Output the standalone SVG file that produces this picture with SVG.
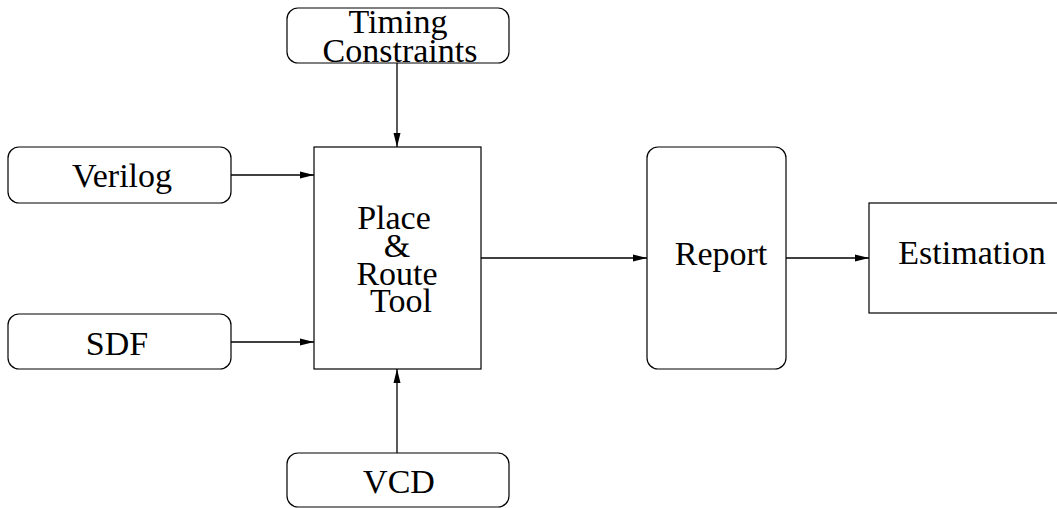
<svg xmlns="http://www.w3.org/2000/svg" width="1057" height="508" viewBox="0 0 1057 508">
<style>
.box{fill:#fff;stroke:#000;stroke-width:1.2}
.t{font-family:"Liberation Serif","Times New Roman",serif;font-size:34px;fill:#000;text-anchor:middle}
.c{stroke:#000;stroke-width:1.3;fill:none;marker-end:url(#ah)}
</style>
<defs>
<marker id="ah" viewBox="0 0 14 8" refX="14" refY="4" markerWidth="14" markerHeight="8" markerUnits="userSpaceOnUse" orient="auto">
<path d="M0,0.5 L14,4 L0,7.5 Z" fill="#000"/>
</marker>
</defs>
<g id="connectors">
<line class="c" x1="397" y1="63" x2="397" y2="147"/>
<line class="c" x1="231" y1="175" x2="314" y2="175"/>
<line class="c" x1="231" y1="342" x2="314" y2="342"/>
<line class="c" x1="397" y1="453" x2="397" y2="369"/>
<line class="c" x1="481" y1="258" x2="647" y2="258"/>
<line class="c" x1="786" y1="258" x2="869" y2="258"/>
</g>
<g id="timing">
<rect class="box" x="287" y="8" width="222" height="55" rx="11"/>
<text class="t" x="398" y="33">Timing</text>
<text class="t" x="400" y="62">Constraints</text>
</g>
<g id="verilog">
<rect class="box" x="8" y="147" width="223" height="56" rx="11"/>
<text class="t" x="122" y="187">Verilog</text>
</g>
<g id="sdf">
<rect class="box" x="8" y="314" width="223" height="55" rx="11"/>
<text class="t" x="117" y="355">SDF</text>
</g>
<g id="vcd">
<rect class="box" x="287" y="453" width="222" height="54" rx="11"/>
<text class="t" x="399" y="493">VCD</text>
</g>
<g id="tool">
<rect class="box" x="314" y="147" width="167" height="222"/>
<text class="t" x="394" y="229">Place</text>
<text class="t" x="397" y="257">&amp;</text>
<text class="t" x="397" y="285">Route</text>
<text class="t" x="401" y="312">Tool</text>
</g>
<g id="report">
<rect class="box" x="647" y="147" width="139" height="222" rx="11"/>
<text class="t" x="721" y="265">Report</text>
</g>
<g id="estimation">
<rect class="box" x="869" y="203" width="200" height="110"/>
<text class="t" x="972" y="264">Estimation</text>
</g>
</svg>
